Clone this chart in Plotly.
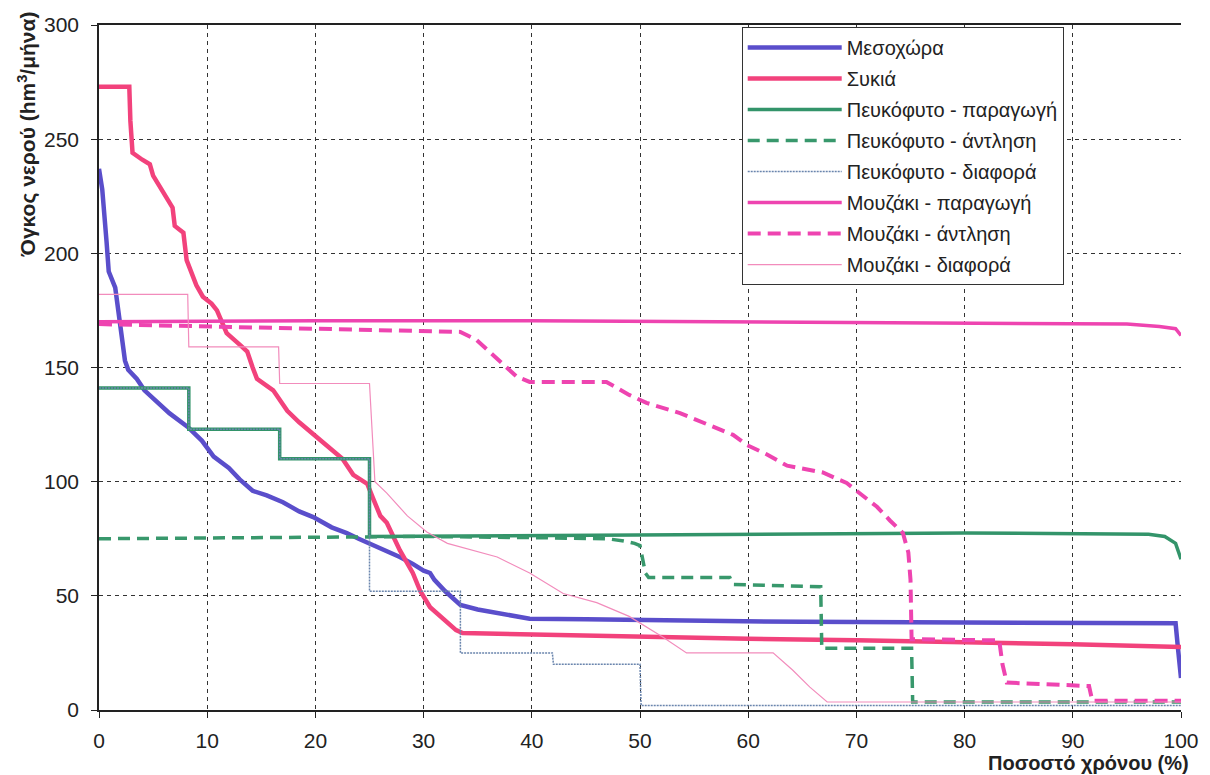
import plotly.graph_objects as go

# ---------------- data ----------------
mesochora_x = [0, 0.3, 0.7, 0.9, 1.5, 2.0, 2.4, 2.7, 3.5, 4.2, 5.5, 6.5, 8.2, 9.5, 10.6, 12, 13, 14.2,
               15.5, 17, 18.5, 19.8, 21.5, 22.9, 24, 25, 26, 27.8, 29, 30.0, 30.6, 31.0, 32, 33.4, 35,
               36.8, 38.5, 39.8, 45, 50, 60, 65, 75, 85, 99.5, 99.7, 100]
mesochora_y = [237, 228, 205, 192, 185, 165, 153, 149, 145, 140, 134, 130, 124, 118, 111, 106, 101, 96,
               94, 91, 87, 84.5, 80, 77.5, 75, 73, 71, 67, 64, 61, 60, 57, 52, 46, 44,
               42.5, 41, 40, 39.7, 39.4, 39, 38.6, 38.4, 38.2, 38, 28, 14]

sykia_x = [0, 2.8, 2.9, 3.1, 4.0, 4.7, 5.0, 6.0, 6.8, 7.0, 7.8, 8.1, 8.4, 9.0, 9.6, 10.4, 10.9, 11.3,
           11.8, 13.0, 13.7, 14.2, 14.6, 16.1, 17.4, 18.5, 19.8, 21.6, 22.5, 23.5, 24.8, 25.3, 26.0,
           26.6, 27.8, 29.0, 29.7, 30.6, 31.5, 32.2, 33.0, 33.6, 40, 50, 60, 70, 80, 90, 100]
sykia_y = [273, 273, 258, 244, 241, 239, 234, 226, 220, 212, 209, 197, 193, 186, 181, 178, 175, 170,
           165, 160, 157, 150, 145, 140, 131, 126, 121, 114, 110, 103, 99, 93, 85,
           82, 70, 60, 52, 45, 41, 38, 35, 33.7, 33, 32, 31.2, 30.5, 29.8, 28.8, 27.6]

pef_prod_x = [0, 8.3, 8.3, 16.7, 16.7, 25, 25, 40, 60, 80, 97, 98.5, 99.5, 100]
pef_prod_y = [141, 141, 123, 123, 110, 110, 76, 76.5, 77, 77.5, 77, 76, 73, 66]

pef_pump_x = [0, 20, 30, 40, 47, 48.5, 49.5, 50, 50.2, 50.5, 50.8, 58.3, 58.6, 66.7, 66.8, 75.1, 75.2, 100]
pef_pump_y = [75, 75.5, 76, 75.5, 75, 74, 73, 72, 67, 60, 58, 58, 55, 54, 27, 27, 3.5, 3.5]

pef_diff_x = [0, 8.3, 8.3, 16.7, 16.7, 25, 25, 33.4, 33.4, 41.9, 42, 50, 50.1, 100]
pef_diff_y = [141, 141, 123, 123, 110, 110, 52, 52, 25, 25, 20, 20, 2, 2]

mou_prod_x = [0, 20, 40, 60, 80, 95, 98, 99.5, 100]
mou_prod_y = [170, 170.5, 170.5, 170, 169.5, 169, 168, 167, 164]

mou_pump_x = [0, 10, 20, 30, 33.4, 34.9, 36.1, 37.7, 38.6, 39.8, 46.9, 49, 50.6, 53.7, 56.7, 58.6, 59.9,
              61.7, 63.6, 66.9, 69.1, 70.3, 71.9, 73.1, 74.3, 74.8, 75, 75.1, 83.2, 83.5, 83.9, 91.5,
              91.8, 100]
mou_pump_y = [169, 168, 167, 166, 165.6, 162, 157, 150, 146, 143.7, 143.7, 138, 134.5, 130, 124, 120.5, 116,
              112, 107, 104, 99.4, 95, 89, 83, 77.5, 69, 57, 31, 30.5, 20, 12, 10.5,
              4, 4]

mou_diff_x = [0, 8.2, 8.3, 16.6, 16.7, 25, 25.5, 26.6, 28.5, 30.3, 32.2, 34.5, 36.8, 39.8, 42.9, 46,
              49, 52.1, 54.3, 62.3, 64.1, 65.7, 67.3, 100]
mou_diff_y = [182, 182, 159, 159, 143, 143, 100, 95, 85, 78, 73, 70, 67, 60, 51, 47,
              41, 32, 25, 25, 17.5, 10, 3.5, 3.5]

names = ["Μεσοχώρα", "Συκιά", "Πευκόφυτο - παραγωγή", "Πευκόφυτο - άντληση",
         "Πευκόφυτο - διαφορά", "Μουζάκι - παραγωγή", "Μουζάκι - άντληση", "Μουζάκι - διαφορά"]

x_ticks = [0, 10, 20, 30, 40, 50, 60, 70, 80, 90, 100]
y_ticks = [0, 50, 100, 150, 200, 250, 300]

# ---------------- figure ----------------
FONT = "Liberation Sans, Arial, sans-serif"
series = [
    (mesochora_x, mesochora_y, dict(color="#5a4ecb", width=4.5)),
    (sykia_x, sykia_y, dict(color="#f2427c", width=4.5)),
    (pef_prod_x, pef_prod_y, dict(color="#33946a", width=3.5)),
    (pef_pump_x, pef_pump_y, dict(color="#38986c", width=3.5, dash="12px,7px")),
    (pef_diff_x, pef_diff_y, dict(color="#6a85ad", width=1.5, dash="2px,1px")),
    (mou_prod_x, mou_prod_y, dict(color="#ee44b0", width=3.5)),
    (mou_pump_x, mou_pump_y, dict(color="#ee44b0", width=4, dash="13px,7px")),
    (mou_diff_x, mou_diff_y, dict(color="#f28cbc", width=1.2)),
]

fig = go.Figure()
for i, ((xs, ys, ln), nm) in enumerate(zip(series, names)):
    fig.add_trace(go.Scatter(x=xs, y=ys, mode="lines", name=nm, line=ln,
                             legendgroup=f"g{i}"))

fig.update_layout(
    width=1202, height=767,
    margin=dict(l=91, r=29, t=17, b=65, autoexpand=False),
    paper_bgcolor="white", plot_bgcolor="white",
    font=dict(family=FONT, size=20, color="#222222"),
    showlegend=True,
    legend=dict(
        x=0.594, y=0.997, xanchor="left", yanchor="top",
        bgcolor="white", bordercolor="#333333", borderwidth=1,
        font=dict(family=FONT, size=20, color="#222222"),
        itemwidth=94, tracegroupgap=2, traceorder="grouped",
    ),
    xaxis=dict(
        range=[0, 100], tickvals=x_ticks, ticks="outside", ticklen=6, tickcolor="#222",
        ticklabelstandoff=5, automargin=False,
        showline=True, linecolor="#222", linewidth=1.5, mirror=True,
        showgrid=True, gridcolor="#333333", gridwidth=1, griddash="4px,4px",
        zeroline=False, tickfont=dict(size=21),
    ),
    yaxis=dict(
        range=[0, 300], tickvals=y_ticks, ticks="outside", ticklen=6, tickcolor="#222",
        ticklabelstandoff=8, automargin=False,
        showline=True, linecolor="#222", linewidth=1.5,
        showgrid=True, gridcolor="#333333", gridwidth=1, griddash="4px,4px",
        zeroline=False, tickfont=dict(size=21),
    ),
    annotations=[
        dict(text="<b>Ποσοστό χρόνου (%)</b>", xref="paper", yref="paper", x=1.0, y=0,
             xanchor="right", yanchor="top", yshift=-40, xshift=10, showarrow=False,
             font=dict(family=FONT, size=20, color="#222222")),
        dict(text="<b>Όγκος νερού (hm<sup>3</sup>/μήνα)</b>", xref="paper", yref="paper",
             x=0, y=1.022, xanchor="right", yanchor="top", xshift=-56, textangle=-90,
             showarrow=False, font=dict(family=FONT, size=21, color="#222222")),
    ],
)

fig.write_html("out.html")
